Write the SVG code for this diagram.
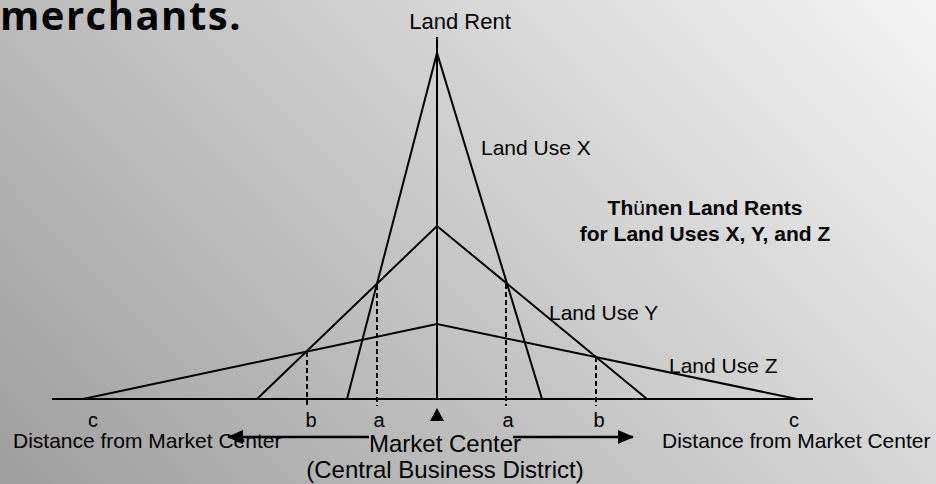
<svg xmlns="http://www.w3.org/2000/svg" width="936" height="484" viewBox="0 0 936 484">
<defs>
<linearGradient id="bg" gradientUnits="userSpaceOnUse" x1="37" y1="660" x2="899" y2="-176">
<stop offset="0" stop-color="#969696"/>
<stop offset="1" stop-color="#fcfcfc"/>
</linearGradient>
<marker id="arr" markerWidth="16" markerHeight="14" refX="15" refY="7" orient="auto" markerUnits="userSpaceOnUse">
<path d="M0,0 L16,7 L0,14 Z" fill="#000"/>
</marker>
<style>
.ln{stroke:#000;stroke-width:2;fill:none}
.ds{stroke:#000;stroke-width:2;stroke-dasharray:5 3;fill:none}
.ar{stroke:#000;stroke-width:2.5;fill:none}
.t{font-family:"Liberation Sans",Arial,sans-serif;fill:#000}
.lbl{font-size:21px}
.abc{font-size:20px;text-anchor:middle}
.ttl{font-size:21px;font-weight:bold;text-anchor:middle}
</style>
</defs>
<rect width="936" height="484" fill="url(#bg)"/>
<text x="0" y="30" font-family="'Open Sans','Noto Sans',sans-serif" font-weight="bold" font-size="40" letter-spacing="1.5" fill="#000">merchants.</text>

<g id="connectors">
<line class="ln" x1="52" y1="399" x2="813" y2="399"/>
<line class="ln" x1="437" y1="37" x2="437" y2="399"/>
<polyline id="useX" class="ln" points="347,399 437,53 542,399"/>
<polyline id="useY" class="ln" points="257,399 437,226 647,399"/>
<polyline id="useZ" class="ln" points="83,399 437,324 797,399"/>
<line class="ds" x1="377" y1="285" x2="377" y2="406"/>
<line class="ds" x1="307" y1="352" x2="307" y2="406"/>
<line class="ds" x1="506" y1="284" x2="506" y2="406"/>
<line class="ds" x1="596" y1="357" x2="596" y2="406"/>
<line class="ar" x1="369" y1="437" x2="228" y2="437" marker-end="url(#arr)"/>
<line class="ar" x1="513" y1="437" x2="633" y2="437" marker-end="url(#arr)"/>
</g>

<g id="landRent"><text class="t" x="460" y="29" font-size="22" text-anchor="middle">Land Rent</text></g>
<g id="labelX"><text class="t lbl" x="481" y="155">Land Use X</text></g>
<g id="labelY"><text class="t lbl" x="549" y="320">Land Use Y</text></g>
<g id="labelZ"><text class="t lbl" x="669" y="373">Land Use Z</text></g>
<g id="title">
<text class="t ttl" x="705" y="215">Th<tspan font-weight="normal">ü</tspan>nen Land Rents</text>
<text class="t ttl" x="705" y="241">for Land Uses X, Y, and Z</text>
</g>
<g id="ticks">
<text class="t abc" x="93" y="427">c</text>
<text class="t abc" x="311" y="427">b</text>
<text class="t abc" x="379" y="427">a</text>
<polygon points="437,408 430,421 444,421" fill="#000"/>
<text class="t abc" x="508" y="427">a</text>
<text class="t abc" x="599" y="427">b</text>
<text class="t abc" x="794" y="427">c</text>
</g>
<g id="distLeft"><text class="t" x="13" y="448" font-size="21">Distance from Market Center</text></g>
<g id="distRight"><text class="t" x="662" y="448" font-size="21">Distance from Market Center</text></g>
<g id="market">
<text class="t" x="445" y="452" font-size="24" text-anchor="middle">Market Center</text>
<text class="t" x="445" y="478" font-size="24" text-anchor="middle">(Central Business District)</text>
</g>
</svg>
